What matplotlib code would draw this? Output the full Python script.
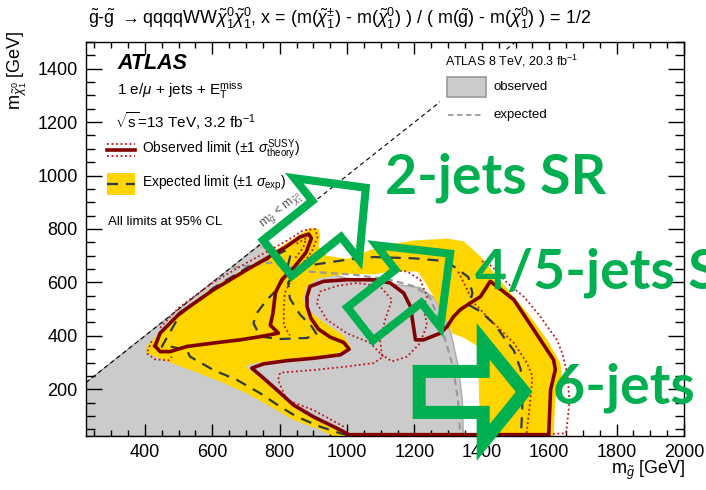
import numpy as np
import matplotlib
matplotlib.use("Agg")
import matplotlib.pyplot as plt
from matplotlib.patches import Polygon, PathPatch, Rectangle
from matplotlib.path import Path
from matplotlib.lines import Line2D
from matplotlib.transforms import IdentityTransform

plt.rcParams['font.family'] = ['Liberation Sans', 'DejaVu Sans']
plt.rcParams['mathtext.fontset'] = 'custom'
plt.rcParams['mathtext.rm'] = 'Liberation Sans'
plt.rcParams['mathtext.it'] = 'Liberation Sans:italic'
plt.rcParams['mathtext.bf'] = 'Liberation Sans:bold'

# ---- contours, (m_gluino, m_neutralino) in GeV ----
# ATLAS 8 TeV observed exclusion (grey fill)
run1_obs = [(225, 25), (225, 225), (740, 740), (790, 700), (870, 660), (1000, 615),
            (1098, 600), (1217, 580), (1260, 540), (1290, 470), (1310, 400),
            (1330, 284), (1342, 160), (1345, 25)]
# ATLAS 8 TeV expected (grey dashed)
run1_exp = [(660, 655), (780, 675), (880, 641), (1019, 629), (1120, 612), (1200, 585),
            (1245, 545), (1270, 470), (1290, 390), (1315, 280), (1330, 150), (1336, 25)]

# expected +-1 sigma band: outer edge and inner edge (hole)
band_outer = [(960, 25), (920, 48), (841, 85), (772, 135), (702, 185), (623, 229),
              (534, 272), (455, 310), (405, 335), (405, 360), (445, 416), (504, 491),
              (603, 583), (702, 656), (762, 700), (821, 748), (890, 804), (915, 800),
              (920, 772), (915, 735), (940, 700), (1000, 688), (1098, 735), (1197, 757),
              (1297, 764), (1346, 754), (1396, 697), (1445, 622), (1495, 547),
              (1544, 472), (1594, 385), (1633, 298), (1638, 260), (1618, 160),
              (1613, 35), (1615, 25)]
band_inner = [(1000, 25), (975, 45), (905, 85), (845, 128), (795, 185), (750, 235),
              (710, 272), (700, 288), (735, 300), (820, 312), (900, 320), (975, 335),
              (1012, 356), (990, 400), (930, 452), (880, 500), (870, 540), (880, 585),
              (915, 615), (1000, 632), (1080, 630), (1140, 643), (1210, 640),
              (1232, 600), (1250, 560), (1268, 520), (1285, 480), (1300, 445),
              (1310, 410), (1346, 393), (1386, 362), (1390, 285), (1392, 150), (1396, 25)]

# expected limit (dashed)
exp_line = [(1000, 30), (980, 35), (920, 60), (851, 97), (801, 135), (742, 185),
            (673, 235), (603, 272), (534, 322), (524, 347), (475, 360), (450, 360),
            (504, 479), (603, 579), (702, 654), (762, 685), (821, 722), (831, 697),
            (816, 622), (792, 573), (762, 535), (732, 485), (722, 448), (742, 397),
            (801, 388), (880, 392), (910, 405), (895, 435), (860, 480), (830, 540),
            (825, 600), (855, 645), (900, 666), (999, 685), (1079, 695), (1200, 690),
            (1290, 680), (1316, 660), (1360, 620), (1372, 560), (1362, 515),
            (1396, 491), (1440, 440), (1465, 395), (1495, 345), (1515, 275),
            (1522, 200), (1519, 100), (1516, 30), (1000, 30)]

# observed limit (solid), two pieces
obs_island = [(430, 362), (445, 410), (504, 485), (603, 572), (702, 647), (762, 691),
              (821, 735), (860, 770), (886, 781), (894, 765), (878, 712), (841, 654),
              (806, 610), (787, 560), (780, 485), (772, 440), (796, 410), (742, 397),
              (683, 385), (603, 373), (524, 360), (475, 341), (445, 341), (430, 362)]
obs_main = [(1000, 30), (999, 35), (960, 60), (900, 97), (841, 141), (792, 197),
            (747, 247), (717, 279), (752, 295), (821, 307), (900, 316), (980, 329),
            (1006, 350), (990, 375), (950, 395), (915, 425), (893, 465), (881, 510),
            (881, 547), (890, 585), (930, 604), (999, 610), (1079, 610), (1128, 598),
            (1168, 560), (1188, 510), (1197, 435), (1203, 385), (1227, 385),
            (1277, 410), (1297, 435), (1316, 472), (1336, 498), (1366, 523),
            (1396, 547), (1425, 604), (1460, 570), (1495, 535), (1554, 423),
            (1613, 310), (1618, 273), (1604, 198), (1599, 48), (1599, 30), (1000, 30)]

# observed +-1 sigma(theory) (dotted)
obs_theory = [
    [(420, 380), (405, 335), (430, 312), (470, 308), (480, 322)],
    [(445, 430), (500, 505), (600, 598), (700, 672), (820, 755), (870, 795),
     (905, 800), (912, 770), (895, 715), (862, 660), (835, 612), (815, 560),
     (812, 500), (812, 440), (830, 402)],
    [(850, 745), (878, 765), (870, 730), (845, 690)],
    [(990, 60), (900, 122), (821, 160), (795, 235), (801, 262), (900, 272),
     (999, 285), (1079, 298), (1108, 322), (1069, 373), (999, 410), (940, 460),
     (910, 523), (920, 566), (970, 587), (1029, 598), (1098, 585), (1133, 535),
     (1113, 460), (1098, 385), (1103, 330), (1133, 304), (1178, 322), (1217, 373),
     (1237, 441), (1227, 504), (1237, 548), (1217, 610), (1178, 641), (1140, 645)],
    [(1330, 640), (1376, 523), (1425, 460), (1495, 373), (1534, 298), (1550, 250),
     (1544, 160), (1534, 48), (1532, 30)],
    [(1400, 680), (1430, 660), (1475, 598), (1524, 547), (1574, 472), (1594, 435),
     (1623, 385), (1640, 330), (1655, 250), (1660, 150), (1650, 35), (1610, 33)],
    [(1010, 33), (1300, 33)],
]

xticks = [400, 600, 800, 1000, 1200, 1400, 1600, 1800, 2000]
yticks = [200, 400, 600, 800, 1000, 1200, 1400]

# arrows drawn on top: tail centre (GeV), angle, shaft len/width, head width/len (px), line width
arrows = [((793, 691), 38.5, 63, 46, 104, 50, 5.8),
          ((1039, 445), 38.0, 61, 42, 104, 53, 5.8),
          ((1214, 190), 0.0, 64, 41, 101, 41, 9.4)]
arrow_labels = [("2-jets SR", 385, 193), ("4/5-jets SR", 475, 288), ("6-jets SR", 553, 403)]

GREEN = '#00b050'
MAROON = '#7f0000'
DOTRED = '#c0141a'
DASH = '#2e3a46'
YELLOW = '#ffd500'
GREY = '#cbcbcb'

W, H = 706, 490
fig = plt.figure(figsize=(W / 100, H / 100), dpi=100)
ax = fig.add_axes([86 / W, 1 - 436 / H, 598 / W, 394 / H])
ax.set_xlim(225, 2000)
ax.set_ylim(25, 1500)

# grey run-1 region
ax.add_patch(Polygon(run1_obs, closed=True, facecolor=GREY, edgecolor='#a9a9a9', lw=1.0, zorder=1))
gx, gy = zip(*run1_exp)
ax.plot(gx, gy, color='#9a9a9a', lw=1.6, ls=(0, (3, 2)), zorder=3)


def signed_area(pts):
    p = np.array(pts, dtype=float)
    return 0.5 * np.sum(p[:, 0] * np.roll(p[:, 1], -1) - np.roll(p[:, 0], -1) * p[:, 1])


outer = list(band_outer)
inner = list(band_inner)
if signed_area(outer) < 0:
    outer = outer[::-1]
if signed_area(inner) > 0:
    inner = inner[::-1]
verts = outer + [outer[0]] + inner + [inner[0]]
codes = ([Path.MOVETO] + [Path.LINETO] * (len(outer) - 1) + [Path.CLOSEPOLY] +
         [Path.MOVETO] + [Path.LINETO] * (len(inner) - 1) + [Path.CLOSEPOLY])
ax.add_patch(PathPatch(Path(verts, codes), facecolor=YELLOW, edgecolor='none', zorder=2))

# kinematic boundary
ax.plot([225, 1500], [225, 1500], color='black', lw=0.8, ls=(0, (4, 3)), zorder=3)

for seg in obs_theory:
    sx, sy = zip(*seg)
    ax.plot(sx, sy, color=DOTRED, lw=1.3, ls=(0, (1, 1.5)), zorder=4)

ex, ey = zip(*exp_line)
ax.plot(ex, ey, color=DASH, lw=1.6, ls=(0, (5, 3.5)), zorder=5)

for seg in (obs_island, obs_main):
    ox, oy = zip(*seg)
    ax.plot(ox, oy, color=MAROON, lw=2.6, solid_joinstyle='round', zorder=6)

# axes cosmetics, ROOT style
ax.set_xticks(xticks)
ax.set_yticks(yticks)
ax.set_xticks(np.arange(250, 2001, 50), minor=True)
ax.set_yticks(np.arange(50, 1501, 50), minor=True)
ax.tick_params(which='both', direction='in', top=True, right=True, width=1.0, labelsize=13)
ax.tick_params(axis='x', which='major', length=8.4, pad=6)
ax.tick_params(axis='x', which='minor', length=4.1)
ax.tick_params(axis='y', which='major', length=11.5, pad=6)
ax.tick_params(axis='y', which='minor', length=6.3)
for s in ax.spines.values():
    s.set_linewidth(1.0)

fig.text(685 / W, 1 - 474 / H, r'm$_{\tilde{g}}$ [GeV]', ha='right', va='baseline', fontsize=13)
fig.text(17 / W, 1 - 30 / H, r'm$_{\tilde{\chi}^{0}_{1}}$ [GeV]', ha='center', va='top',
         rotation=90, fontsize=13)

fig.text(88 / W, 1 - 24 / H,
         r'$\tilde{\mathrm{g}}$-$\tilde{\mathrm{g}}$ $\rightarrow$qqqqWW$\tilde{\chi}^{0}_{1}\tilde{\chi}^{0}_{1}$, '
         r'x = (m($\tilde{\chi}^{\pm}_{1}$) - m($\tilde{\chi}^{0}_{1}$) ) / ( m($\tilde{\mathrm{g}}$) - m($\tilde{\chi}^{0}_{1}$) ) = 1/2',
         ha='left', va='baseline', fontsize=12.9)

# diagonal label
ax.text(806, 867, r'm$_{\tilde{g}}$ < m$_{\tilde{\chi}^{0}_{1}}$', rotation=38.4, color='#555555',
        fontsize=9, ha='center', va='center', rotation_mode='anchor', zorder=4)

# left legend block
T = ax.transAxes
ax.text(0.052, 0.932, 'ATLAS', transform=T, fontsize=15.5, fontweight='bold', fontstyle='italic',
        va='baseline', zorder=8)
ax.text(0.052, 0.865, r'1 e/$\mu$ + jets + E$_{\mathrm{T}}^{\mathrm{miss}}$', transform=T,
        fontsize=11, va='baseline', zorder=8)
ax.text(0.0485, 0.782, r'$\sqrt{\mathrm{s}}$=13 TeV, 3.2 fb$^{-1}$', transform=T,
        fontsize=11, va='baseline', zorder=8)
ax.add_line(Line2D([0.035, 0.082], [0.726, 0.726], transform=T, color=MAROON, lw=2.6, zorder=8))
for yy in (0.741, 0.711):
    ax.add_line(Line2D([0.035, 0.082], [yy, yy], transform=T, color=DOTRED, lw=1.3,
                       ls=(0, (1, 1.5)), zorder=8))
ax.text(0.094, 0.726, r'Observed limit ($\pm$1 $\sigma^{\mathrm{SUSY}}_{\mathrm{theory}}$)', transform=T,
        fontsize=10, va='center', zorder=8)
ax.add_patch(Rectangle((0.035, 0.612), 0.047, 0.056, transform=T, facecolor=YELLOW,
                       edgecolor='none', zorder=8))
ax.add_line(Line2D([0.035, 0.082], [0.640, 0.640], transform=T, color=DASH, lw=1.6,
                   ls=(0, (5, 3.5)), zorder=9))
ax.text(0.094, 0.640, r'Expected limit ($\pm$1 $\sigma_{\mathrm{exp}}$)', transform=T,
        fontsize=10, va='center', zorder=8)
ax.text(0.037, 0.543, 'All limits at 95% CL', transform=T, fontsize=9.5, va='center', zorder=8)

# right legend block (run 1)
ax.add_patch(Rectangle((0.592, 0.789), 0.27, 0.19, transform=T, facecolor='white',
                       edgecolor='none', zorder=7))
ax.text(0.600, 0.952, r'ATLAS 8 TeV, 20.3 fb$^{-1}$', transform=T, fontsize=9, va='center', zorder=8)
ax.add_patch(Rectangle((0.604, 0.860), 0.065, 0.051, transform=T, facecolor=GREY,
                       edgecolor='#9a9a9a', lw=1.2, zorder=8))
ax.text(0.681, 0.886, 'observed', transform=T, fontsize=9.5, va='center', zorder=8)
ax.add_line(Line2D([0.605, 0.662], [0.815, 0.815], transform=T, color='#9a9a9a', lw=1.3,
                   ls=(0, (3, 2)), zorder=8))
ax.text(0.681, 0.815, 'expected', transform=T, fontsize=9.5, va='center', zorder=8)

# green overlay arrows and labels
for tail, ang, ls_, sw, hw, hl, lw in arrows:
    cx, cy = ax.transData.transform(tail)
    a = np.deg2rad(ang)
    u = np.array([np.cos(a), np.sin(a)])
    n = np.array([-np.sin(a), np.cos(a)])
    c = np.array([cx, cy])
    pts = [c + n * sw / 2, c + u * ls_ + n * sw / 2, c + u * ls_ + n * hw / 2,
           c + u * (ls_ + hl), c + u * ls_ - n * hw / 2, c + u * ls_ - n * sw / 2,
           c - n * sw / 2]
    fig.add_artist(Polygon(pts, closed=True, fill=False, edgecolor=GREEN, lw=lw,
                           joinstyle='miter', transform=IdentityTransform(), zorder=20))

for txt, px, py in arrow_labels:
    fig.text(px / W, 1 - py / H, txt, color=GREEN, fontsize=40, fontweight='bold',
             family=['Lato', 'DejaVu Sans'], ha='left', va='baseline', zorder=21)

fig.savefig('out.png', dpi=100)
